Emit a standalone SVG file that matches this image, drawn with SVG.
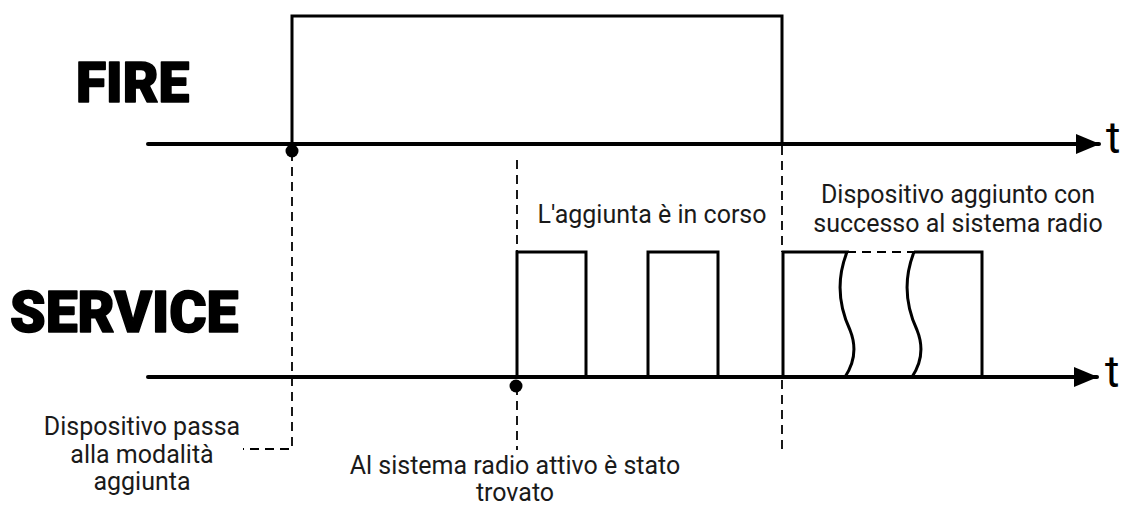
<svg xmlns="http://www.w3.org/2000/svg" width="1123" height="506" viewBox="0 0 1123 506">
<defs>
<style>
.axis{stroke:#000;stroke-width:4;fill:none;stroke-linecap:round}
.sig{stroke:#000;stroke-width:3;fill:none;stroke-linejoin:miter}
.dash{stroke:#000;stroke-width:1.8;fill:none;stroke-dasharray:9,6}
.title{font-family:Roboto,"Liberation Sans",sans-serif;font-weight:900;fill:#000;stroke:#000;stroke-width:1.6;stroke-linejoin:round}
.lbl{font-family:Roboto,"Liberation Sans",sans-serif;font-size:25px;fill:#1a1a1a;text-anchor:middle}
.t{font-family:Roboto,"Liberation Sans",sans-serif;font-size:44px;fill:#000}
</style>
<marker id="arr" markerWidth="24" markerHeight="20" refX="23" refY="10" orient="auto" markerUnits="userSpaceOnUse" viewBox="0 0 24 20">
<path d="M0,0 L24,10 L0,20 Z" fill="#000"/>
</marker>
</defs>
<g id="fire-label"><text class="title" x="76" y="102" font-size="55">FIRE</text></g>
<g id="service-label"><text class="title" x="10" y="332" font-size="57">SERVICE</text></g>
<g id="connectors">
<line class="axis" x1="148" y1="144" x2="1099" y2="144" marker-end="url(#arr)"/>
<line class="axis" x1="148" y1="377" x2="1097" y2="377" marker-end="url(#arr)"/>
<path class="dash" d="M292,152 V449 H243"/>
<path class="dash" d="M517,160 V252"/>
<path class="dash" d="M517,386 V450"/>
<path class="dash" d="M782,146 V252"/>
<path class="dash" d="M782,380 V450"/>
<path class="dash" d="M847,252 H914"/>
</g>
<g id="fire-signal">
<path class="sig" d="M292,144 V16 H782 V144"/>
<circle cx="292" cy="151" r="6.5" fill="#000"/>
</g>
<g id="service-signal">
<path class="sig" d="M517,377 V252 H586 V377"/>
<path class="sig" d="M648,377 V252 H718 V377"/>
<path class="sig" d="M783,377 V252 H847 C838,275 836,300 850,330 C858,350 853,365 845,377"/>
<path class="sig" d="M914,252 H982 V377"/>
<path class="sig" d="M914,252 C905,275 903,300 917,330 C925,350 920,365 912,377"/>
<circle cx="516" cy="386" r="6.5" fill="#000"/>
</g>
<g id="t-labels">
<text class="t" x="1106" y="153">t</text>
<text class="t" x="1105" y="387">t</text>
</g>
<g id="label-progress"><text class="lbl" x="652" y="223">L'aggiunta è in corso</text></g>
<g id="label-success"><text class="lbl" x="958" y="203">Dispositivo aggiunto con</text><text class="lbl" x="958" y="232">successo al sistema radio</text></g>
<g id="label-mode"><text class="lbl" x="142" y="435">Dispositivo passa</text><text class="lbl" x="142" y="463">alla modalità</text><text class="lbl" x="142" y="490">aggiunta</text></g>
<g id="label-found"><text class="lbl" x="515" y="474">Al sistema radio attivo è stato</text><text class="lbl" x="515" y="501">trovato</text></g>
</svg>
